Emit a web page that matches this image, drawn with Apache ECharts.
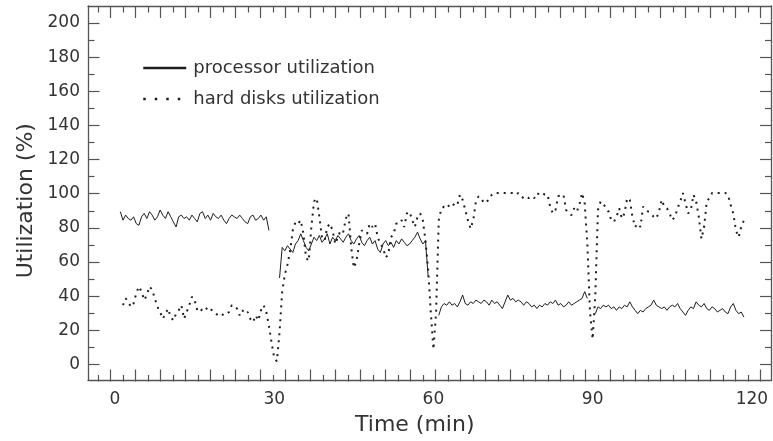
<!DOCTYPE html>
<html>
<head>
<meta charset="utf-8">
<script src="https://cdn.jsdelivr.net/npm/echarts@6/dist/echarts.min.js"></script>
<style>
  html, body { margin: 0; background: #fff; }
  #chart { width: 773px; height: 441px; }
</style>
</head>
<body>
<div id="chart"></div>
<script>
// sampling of both series (minutes)
const sampleStep = 0.5;
const processorStart = 1.0;
const disksStart = 1.5;

// processor utilization (%), null = no sample (gaps around 30, 60, 90 min)
const processorUtil = [
  89, 84, 87, 85, 84, 86, 82, 81, 86, 88,
  85, 89, 87, 84, 86, 90, 87, 85, 89, 86,
  83, 80, 86, 87, 85, 86, 84, 87, 85, 83,
  88, 89, 85, 87, 84, 88, 86, 85, 87, 84,
  82, 85, 87, 86, 85, 87, 85, 83, 82, 86,
  87, 84, 85, 87, 84, 86, 78,
  null, null, null,
  50, 68, 66, 69, 67, 65, 70, 72, 76, 72,
  68, 66, 70, 74, 72, 75, 71, 73, 76, 70,
  74, 72, 75, 73, 71, 74, 76, 72, 70, 73,
  75, 71, 69, 72, 74, 70, 72, 67, 65, 70,
  72, 69, 71, 68, 72, 70, 73, 71, 69, 70,
  72, 74, 77, 73, 70, 72, 51,
  null, null, null,
  28, 33, 35, 34, 36, 34, 35, 33, 36, 40,
  35, 34, 36, 35, 37, 36, 35, 37, 36, 34,
  37, 35, 36, 34, 32, 36, 40, 37, 38, 36,
  37, 36, 34, 36, 35, 33, 34, 32, 34, 33,
  35, 34, 36, 35, 37, 34, 35, 33, 34, 36,
  34, 35, 36, 37, 38, 42, 38,
  null, null,
  29, 33, 32, 34, 33, 34, 32, 33, 31, 33,
  32, 34, 33, 36, 33, 31, 29, 31, 30, 32,
  33, 34, 37, 34, 33, 32, 33, 31, 33, 34,
  33, 35, 32, 30, 28, 31, 33, 32, 36, 34,
  33, 35, 32, 31, 33, 32, 30, 31, 32, 30,
  29, 33, 35, 31, 29, 30, 27
];

// hard disks utilization (%)
const disksUtil = [
  34, 38, 36, 33, 35, 41, 45, 42, 37, 40,
  45, 43, 38, 33, 30, 26, 29, 32, 27, 25,
  29, 31, 34, 26, 30, 34, 39, 37, 31, 30,
  32, 33, 31, 32, 30, 29, 28, 29, 28, 29,
  30, 34, 33, 32, 28, 31, 29, 30, 26, 24,
  28, 25, 31, 34, 30, 22, 12, 3, 1, 18,
  42, 52, 58, 66, 78, 83, 82, 84, 76, 62,
  60, 80, 95, 97, 86, 74, 72, 80, 82, 78,
  70, 74, 78, 77, 85, 88, 68, 56, 60, 70,
  78, 77, 76, 82, 80, 82, 74, 70, 68, 62,
  64, 74, 76, 82, 82, 84, 80, 88, 89, 84,
  80, 86, 88, 84, 72, 55, 30, 8, 30, 84,
  91, 92, 91, 93, 92, 94, 93, 99, 96, 90,
  84, 79, 84, 95, 98, 97, 94, 95, 96, 99,
  100, 100, 100, 100, 100, 100, 100, 100, 99, 100,
  98, 97, 98, 97, 98, 97, 100, 99, 100, 99,
  99, 92, 88, 90, 98, 99, 99, 90, 88, 87,
  91, 89, 93, 100, 94, 70, 30, 14, 40, 90,
  95, 94, 91, 89, 84, 83, 86, 91, 85, 88,
  97, 96, 86, 80, 82, 80, 92, 90, 89, 88,
  86, 85, 89, 96, 92, 91, 88, 84, 86, 91,
  95, 100, 94, 88, 90, 99, 95, 86, 73, 80,
  95, 97, 100, 100, 100, 100, 100, 100, 99, 93,
  88, 78, 74, 80, 84
];

const timeLabels = [0, 30, 60, 90, 120];

const toPairs = (start, values) =>
  values.map((v, i) => [start + i * sampleStep, v === null ? '-' : v]);

const font = 'DejaVu Sans';
const axisColor = '#555';
const textColor = '#333';
const inkColor = '#1e1e1e';

// main plot box: time -5.09..123.7, utilization -10..210 (grid 0)
// tick marks: thin helper grids (one tick length tall) whose split lines are the ticks
const dummy = (gridIndex) => ({ gridIndex: gridIndex, type: 'value', show: false, min: 0, max: 1 });

const tickAxis = (gridIndex, position, min, max, interval) => ({
  gridIndex: gridIndex,
  type: 'value',
  min: min,
  max: max,
  interval: interval,
  position: position,
  axisLine: { show: false, onZero: false },
  axisTick: { show: false },
  axisLabel: { show: false },
  splitLine: { show: true, lineStyle: { color: axisColor, width: 1.2 } }
});

const frameAxis = (gridIndex, position, min, max) => ({
  gridIndex: gridIndex,
  type: 'value',
  min: min,
  max: max,
  position: position,
  axisLine: { show: true, onZero: false, lineStyle: { color: axisColor, width: 1.3 } },
  axisTick: { show: false },
  axisLabel: { show: false },
  splitLine: { show: false }
});

const xMain = frameAxis(0, 'bottom', -5.09, 123.7);
xMain.axisLabel = { show: true, customValues: timeLabels, margin: 11, color: textColor, fontSize: 17, fontFamily: font };
xMain.name = 'Time (min)';
xMain.nameLocation = 'middle';
xMain.nameGap = 34;
xMain.nameTextStyle = { fontSize: 22, color: textColor, fontFamily: font, padding: [0, 30, 0, 0] };

const yLongLeft = tickAxis(5, 'left', 0, 200, 20);
yLongLeft.axisLabel = { show: true, margin: 8, color: textColor, fontSize: 17, fontFamily: font };
yLongLeft.name = 'Utilization (%)';
yLongLeft.nameLocation = 'middle';
yLongLeft.nameGap = 51;
yLongLeft.nameTextStyle = { fontSize: 22, color: textColor, fontFamily: font, padding: [0, 14, 0, 0] };

const chart = echarts.init(document.getElementById('chart'));

chart.setOption({
  animation: false,
  backgroundColor: '#fff',
  grid: [
    { left: 88, right: 1.5, top: 6, bottom: 59.5 },                  // 0 plot
    { left: 110.7, right: 12.3, top: 369.5, bottom: 59.5 },          // 1 bottom long
    { left: 98.2, right: 24.8, top: 375, bottom: 59.5 },             // 2 bottom short
    { left: 110.7, right: 12.3, top: 6, height: 12 },                // 3 top long
    { left: 98.2, right: 24.8, top: 6, height: 6.5 },                // 4 top short
    { left: 88, width: 11.5, top: 22.99, bottom: 76.57 },            // 5 left long
    { left: 88, width: 6.5, top: 40.06, bottom: 93.64 },             // 6 left short
    { right: 1.5, width: 11.5, top: 22.99, bottom: 76.57 },          // 7 right long
    { right: 1.5, width: 6.5, top: 40.06, bottom: 93.64 }            // 8 right short
  ],
  legend: {
    orient: 'vertical',
    left: 137,
    top: 54,
    itemWidth: 43,
    itemHeight: 14,
    itemGap: 13,
    selectedMode: false,
    textStyle: { fontSize: 18, color: textColor, fontFamily: font, padding: [0, 0, 0, 2] },
    data: [
      {
        name: 'processor utilization',
        itemStyle: { opacity: 0 },
        lineStyle: { width: 2.5, type: 'solid', color: inkColor }
      },
      {
        name: 'hard disks utilization',
        itemStyle: { opacity: 0 },
        lineStyle: { width: 2.5, type: [2.5, 9], color: inkColor }
      }
    ]
  },
  xAxis: [
    xMain,
    frameAxis(0, 'top', -5.09, 123.7),
    tickAxis(1, 'bottom', 0, 26, 1),
    tickAxis(2, 'bottom', 0, 26, 1),
    tickAxis(3, 'top', 0, 26, 1),
    tickAxis(4, 'top', 0, 26, 1),
    dummy(5),
    dummy(6),
    dummy(7),
    dummy(8)
  ],
  yAxis: [
    frameAxis(0, 'left', -10, 210),
    frameAxis(0, 'right', -10, 210),
    dummy(1),
    dummy(2),
    dummy(3),
    dummy(4),
    yLongLeft,
    tickAxis(6, 'left', 10, 190, 20),
    tickAxis(7, 'right', 0, 200, 20),
    tickAxis(8, 'right', 10, 190, 20)
  ],
  series: [
    {
      name: 'processor utilization',
      type: 'line',
      xAxisIndex: 0,
      yAxisIndex: 0,
      data: toPairs(processorStart, processorUtil),
      symbol: 'none',
      connectNulls: false,
      lineStyle: { color: inkColor, width: 1 },
      itemStyle: { color: inkColor }
    },
    {
      name: 'hard disks utilization',
      type: 'line',
      xAxisIndex: 0,
      yAxisIndex: 0,
      data: toPairs(disksStart, disksUtil),
      symbol: 'none',
      lineStyle: { color: inkColor, width: 2, type: [2, 5], cap: 'butt' },
      itemStyle: { color: inkColor }
    }
  ]
});
</script>
</body>
</html>
